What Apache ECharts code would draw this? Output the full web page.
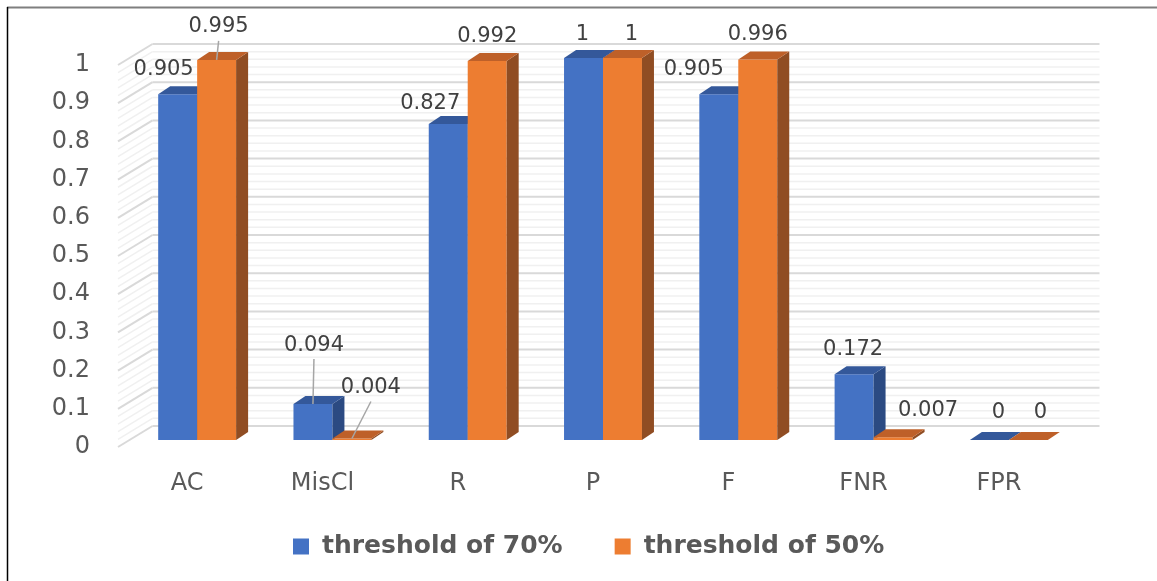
<!DOCTYPE html>
<html>
<head>
<meta charset="utf-8">
<script src="https://cdn.jsdelivr.net/npm/echarts@6/dist/echarts.min.js"></script>
<style>html,body{margin:0;padding:0;background:#fff;}#c{width:1157px;height:581px;}</style>
</head>
<body>
<div id="c"></div>
<script>
// ---- data ----
const categories = ['AC', 'MisCl', 'R', 'P', 'F', 'FNR', 'FPR'];
const seriesNames = ['threshold of 70%', 'threshold of 50%'];
const values70 = [0.905, 0.094, 0.827, 1, 0.905, 0.172, 0];
const values50 = [0.995, 0.004, 0.992, 1, 0.996, 0.007, 0];
const yTickLabels = ['0', '0.1', '0.2', '0.3', '0.4', '0.5', '0.6', '0.7', '0.8', '0.9', '1'];

// ---- style config (not data) ----
const FONT = '"DejaVu Sans", sans-serif';
const faces = [
  { front: '#4472C4', top: '#34589A', side: '#2B4A82' },
  { front: '#ED7D31', top: '#BE6029', side: '#904D23' }
];
const DEPTH = [12, -8];       // bar depth offset
const WALL = [23, -14];       // back wall offset from bar front plane
const FRONT = [-11.5, 7];     // front edge of side wall
// label nudges [dx, dy, leader]
const labelNudge = [
  [[-20, 0, 0], [-5, -34, 1], [-24, 4, 0], [-7, 2, 0], [-31, 0, 0], [-7, 0, 0], [3, -2, 0]],
  [[-4, -8, 1], [13, -26, 1], [-6, 0, 0], [3, 2, 0], [-6, 0, 0], [29, -2, 0], [6, -2, 0]]
];

const chart = echarts.init(document.getElementById('c'), null, { renderer: 'canvas' });

function wallRender(params, api) {
  const catW = api.size([1, 0])[0];
  const L = api.coord([0, 0])[0] - catW / 2;
  const R = api.coord([categories.length - 1, 0])[0] + catW / 2;
  const children = [];
  for (let k = 0; k <= 50; k++) {
    const v = k * 0.02;
    const y = api.coord([0, v])[1];
    const major = k % 5 === 0;
    const style = { stroke: major ? '#D9D9D9' : '#F0F0F0', lineWidth: major ? 2 : 1.5, fill: null };
    children.push({ type: 'line', shape: { x1: L + WALL[0], y1: y + WALL[1], x2: R + WALL[0], y2: y + WALL[1] }, style, z2: major ? 2 : 1 });
    children.push({ type: 'line', shape: { x1: L + FRONT[0], y1: y + FRONT[1], x2: L + WALL[0], y2: y + WALL[1] }, style, z2: major ? 2 : 1 });
  }
  return { type: 'group', children };
}

function barRender(s) {
  return function (params, api) {
    const idx = api.value(0);
    const v = api.value(1);
    const p0 = api.coord([idx, 0]);
    const p1 = api.coord([idx, v]);
    const catW = api.size([1, 0])[0];
    const w = catW * 0.288;
    const x0 = s === 0 ? p0[0] - w : p0[0];
    const x1 = x0 + w;
    const yb = p0[1], yt = p1[1];
    const dx = DEPTH[0], dy = DEPTH[1];
    const c = faces[s];
    const children = [
      { type: 'polygon', shape: { points: [[x0, yb], [x1, yb], [x1, yt], [x0, yt]] }, style: { fill: c.front } },
      { type: 'polygon', shape: { points: [[x1, yt], [x1 + dx, yt + dy], [x1 + dx, yb + dy], [x1, yb]] }, style: { fill: c.side } },
      { type: 'polygon', shape: { points: [[x0, yt], [x1, yt], [x1 + dx, yt + dy], [x0 + dx, yt + dy]] }, style: { fill: c.top } }
    ];
    const nud = labelNudge[s][idx];
    const cx = (x0 + x1) / 2;
    const lx = cx + 6 + nud[0];
    const ly = yt + dy - 17 + nud[1];
    if (nud[2]) {
      children.push({ type: 'line', shape: { x1: lx, y1: ly + 14, x2: cx, y2: yt }, style: { stroke: '#A6A6A6', lineWidth: 1.5 } });
    }
    children.push({
      type: 'text',
      style: {
        x: lx, y: ly, text: String(v), align: 'center', verticalAlign: 'middle',
        fill: '#404040', font: '21px ' + FONT
      },
      z2: 10
    });
    return { type: 'group', children };
  };
}

const option = {
  backgroundColor: '#fff',
  animation: false,
  grid: [
    { left: 129.5, right: 80.5, top: 58, bottom: 141 },
    { left: 118, right: 92, top: 65, bottom: 134 }
  ],
  xAxis: [
    {
      type: 'category',
      gridIndex: 0,
      data: categories,
      axisLine: { show: false },
      axisTick: { show: false },
      splitLine: { show: false },
      axisLabel: { margin: 32, fontSize: 24, color: '#595959', fontFamily: FONT, padding: [0, 20, 0, 0] }
    },
    { type: 'category', gridIndex: 1, data: categories, show: false }
  ],
  yAxis: [
    { type: 'value', gridIndex: 0, min: 0, max: 1, interval: 0.1, show: false },
    {
      type: 'value',
      gridIndex: 1,
      min: 0, max: 1, interval: 0.1,
      axisLine: { show: false },
      axisTick: { show: false },
      splitLine: { show: false },
      axisLabel: {
        margin: 28, fontSize: 24, color: '#595959', fontFamily: FONT,
        formatter: function (val) { return yTickLabels[Math.round(val * 10)]; }
      }
    }
  ],
  legend: {
    data: seriesNames,
    left: 288,
    top: 529,
    icon: 'rect',
    itemWidth: 16,
    itemHeight: 16,
    itemGap: 52,
    textStyle: { fontSize: 25, fontWeight: 'bold', color: '#595959', fontFamily: FONT, padding: [0, 0, 0, 8] }
  },
  graphic: [
    { type: 'line', shape: { x1: 7, y1: 7.5, x2: 1157, y2: 7.5 }, style: { stroke: '#7F7F7F', lineWidth: 2 } },
    { type: 'line', shape: { x1: 7.5, y1: 7, x2: 7.5, y2: 581 }, style: { stroke: '#000', lineWidth: 1.5 } }
  ],
  series: [
    { type: 'custom', silent: true, z: 1, clip: false, renderItem: wallRender, data: [[0, 0]] },
    {
      type: 'custom', name: seriesNames[0], z: 2, clip: false, renderItem: barRender(0),
      itemStyle: { color: faces[0].front },
      data: values70.map((v, i) => [i, v])
    },
    {
      type: 'custom', name: seriesNames[1], z: 3, clip: false, renderItem: barRender(1),
      itemStyle: { color: faces[1].front },
      data: values50.map((v, i) => [i, v])
    }
  ]
};
chart.setOption(option);
</script>
</body>
</html>
